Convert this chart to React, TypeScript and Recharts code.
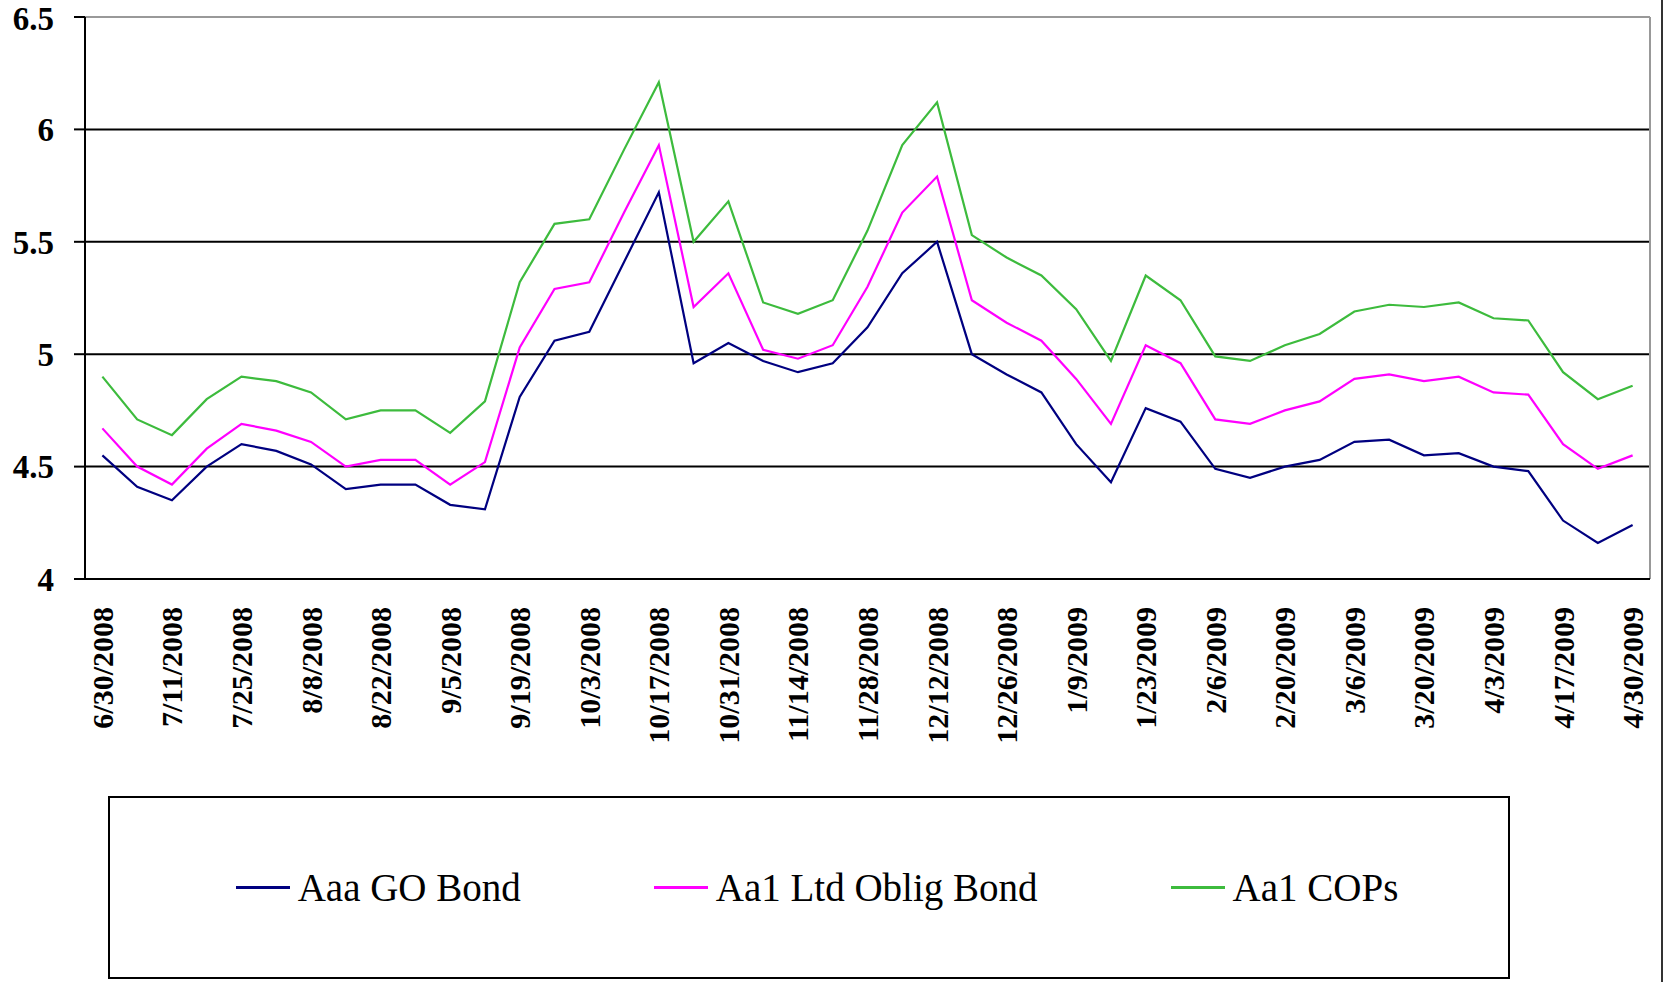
import { CartesianGrid, Legend, Line, LineChart, ReferenceLine, XAxis, YAxis } from 'recharts';

// weekly observation dates (only every other one is labelled on the axis)
const dates = [
  '6/30/2008', '7/3/2008', '7/11/2008', '7/18/2008', '7/25/2008', '8/1/2008', '8/8/2008', '8/15/2008',
  '8/22/2008', '8/29/2008', '9/5/2008', '9/12/2008', '9/19/2008', '9/26/2008', '10/3/2008', '10/10/2008',
  '10/17/2008', '10/24/2008', '10/31/2008', '11/7/2008', '11/14/2008', '11/21/2008', '11/28/2008', '12/5/2008',
  '12/12/2008', '12/19/2008', '12/26/2008', '1/2/2009', '1/9/2009', '1/16/2009', '1/23/2009', '1/30/2009',
  '2/6/2009', '2/13/2009', '2/20/2009', '2/27/2009', '3/6/2009', '3/13/2009', '3/20/2009', '3/27/2009',
  '4/3/2009', '4/10/2009', '4/17/2009', '4/24/2009', '4/30/2009'
];

const aaaGoBond = [
  4.55, 4.41, 4.35, 4.5, 4.6, 4.57, 4.51, 4.4, 4.42, 4.42, 4.33, 4.31, 4.81, 5.06, 5.1, 5.41,
  5.72, 4.96, 5.05, 4.97, 4.92, 4.96, 5.12, 5.36, 5.5, 5.0, 4.91, 4.83, 4.6, 4.43, 4.76, 4.7,
  4.49, 4.45, 4.5, 4.53, 4.61, 4.62, 4.55, 4.56, 4.5, 4.48, 4.26, 4.16, 4.24
];
const aa1LtdOblig = [
  4.67, 4.5, 4.42, 4.58, 4.69, 4.66, 4.61, 4.5, 4.53, 4.53, 4.42, 4.52, 5.03, 5.29, 5.32, 5.63,
  5.93, 5.21, 5.36, 5.02, 4.98, 5.04, 5.3, 5.63, 5.79, 5.24, 5.14, 5.06, 4.89, 4.69, 5.04, 4.96,
  4.71, 4.69, 4.75, 4.79, 4.89, 4.91, 4.88, 4.9, 4.83, 4.82, 4.6, 4.49, 4.55
];
const aa1Cops = [
  4.9, 4.71, 4.64, 4.8, 4.9, 4.88, 4.83, 4.71, 4.75, 4.75, 4.65, 4.79, 5.32, 5.58, 5.6, 5.91,
  6.21, 5.5, 5.68, 5.23, 5.18, 5.24, 5.55, 5.93, 6.12, 5.53, 5.43, 5.35, 5.2, 4.97, 5.35, 5.24,
  4.99, 4.97, 5.04, 5.09, 5.19, 5.22, 5.21, 5.23, 5.16, 5.15, 4.92, 4.8, 4.86
];
const seriesNames = ['Aaa GO Bond', 'Aa1 Ltd Oblig Bond', 'Aa1 COPs'];
const yTicks = [4, 4.5, 5, 5.5, 6, 6.5];

const data = dates.map((d, i) => ({ idx: i, date: d, aaa: aaaGoBond[i], ltd: aa1LtdOblig[i], cops: aa1Cops[i] }));
const boundaries = dates.map((_, i) => i - 0.5).concat(dates.length - 0.5);
const labelTicks = data.filter((d) => d.idx % 2 === 0).map((d) => d.idx);
const xDomain = [-0.5, dates.length - 0.5];

const FONT = '"Liberation Serif", "Times New Roman", serif';

const DateTick = ({ x, y, payload }: any) => (
  <text
    x={x}
    y={y}
    dy="0.35em"
    transform={`rotate(-90, ${x}, ${y})`}
    textAnchor="end"
    fontFamily={FONT}
    fontSize={30}
    fontWeight="bold"
    fill="#000"
  >
    {dates[payload.value]}
  </text>
);

const LegendBox = ({ payload }: any) => {
  const items = [...(payload || [])].sort((a: any, b: any) => seriesNames.indexOf(a.value) - seriesNames.indexOf(b.value));
  return (
    <div
      style={{
        boxSizing: 'border-box',
        width: 1402,
        height: 183,
        border: '2px solid #000',
        background: '#fff',
        display: 'flex',
        alignItems: 'center',
        justifyContent: 'center',
        gap: 133,
        paddingLeft: 16,
        fontFamily: FONT,
        fontSize: 39,
        color: '#000'
      }}
    >
      {items.map((p: any) => (
        <div key={p.value} style={{ display: 'flex', alignItems: 'center' }}>
          <span style={{ display: 'inline-block', width: 54, height: 3, background: p.color, marginRight: 8 }} />
          <span>{p.value}</span>
        </div>
      ))}
    </div>
  );
};

export default function App() {
  return (
    <div style={{ position: 'absolute', left: 0, top: 0, width: 1665, height: 982, background: '#fff' }}>
      <LineChart width={1665} height={982} data={data} margin={{ top: 17, right: 15, bottom: 232, left: 0 }}>
        <CartesianGrid xAxisId="a" vertical={false} stroke="#000" strokeWidth={2} />
        <XAxis
          xAxisId="b"
          type="number"
          dataKey="idx"
          domain={xDomain}
          ticks={labelTicks}
          interval={0}
          tick={<DateTick />}
          tickSize={0}
          tickMargin={27}
          tickLine={false}
          axisLine={false}
          height={170}
        />
        <XAxis
          xAxisId="a"
          type="number"
          dataKey="idx"
          domain={xDomain}
          ticks={boundaries}
          interval={0}
          tick={false}
          tickSize={11}
          height={1}
          axisLine={{ stroke: '#000', strokeWidth: 2 }}
          tickLine={{ stroke: '#000', strokeWidth: 2 }}
        />
        <YAxis
          domain={[4, 6.5]}
          ticks={yTicks}
          width={85}
          tickSize={11}
          tickMargin={20}
          axisLine={{ stroke: '#000', strokeWidth: 2 }}
          tickLine={{ stroke: '#000', strokeWidth: 2 }}
          tick={{ fontFamily: FONT, fontSize: 33, fontWeight: 'bold', fill: '#000' }}
        />
        <ReferenceLine xAxisId="a" y={6.5} stroke="#999" strokeWidth={2} />
        <ReferenceLine xAxisId="a" x={dates.length - 0.5} stroke="#999" strokeWidth={2} />
        <Line xAxisId="a" type="linear" dataKey="aaa" name={seriesNames[0]} stroke="#000080" strokeWidth={2.2} dot={false} isAnimationActive={false} />
        <Line xAxisId="a" type="linear" dataKey="ltd" name={seriesNames[1]} stroke="#FF00FF" strokeWidth={2.2} dot={false} isAnimationActive={false} />
        <Line xAxisId="a" type="linear" dataKey="cops" name={seriesNames[2]} stroke="#3DBB3D" strokeWidth={2.2} dot={false} isAnimationActive={false} />
        <Legend
          layout="horizontal"
          verticalAlign="middle"
          align="center"
          content={<LegendBox />}
          wrapperStyle={{ left: 108, top: 796, width: 1402, height: 183 }}
        />
      </LineChart>
      <div style={{ position: 'absolute', left: 1661, top: 0, width: 2, height: 982, background: '#333' }} />
    </div>
  );
}
